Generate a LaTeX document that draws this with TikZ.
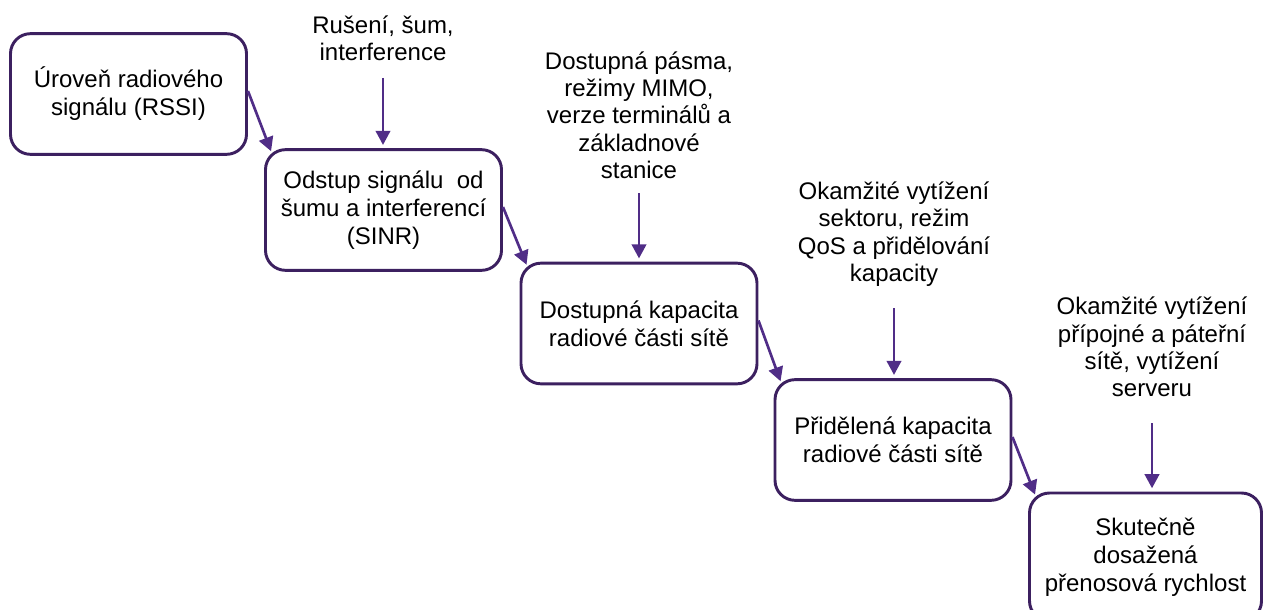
\documentclass[tikz,border=0pt]{standalone}
\usepackage{fontspec}
\setmainfont{Liberation Sans}
\usetikzlibrary{arrows.meta,calc}

\definecolor{boxline}{RGB}{60,32,96}
\definecolor{arrowline}{RGB}{80,45,135}

\tikzset{
    stage/.style={draw=boxline, line width=2.2pt, rounded corners=15pt, fill=white,
        minimum width=177pt, minimum height=90.5pt, align=center, inner sep=2pt,
        font=\fontsize{18}{21}\selectfont},
    factor/.style={align=center, inner sep=0pt, font=\fontsize{18}{20.5}\selectfont},
    flow/.style={draw=arrowline, line width=2pt, -{Triangle[width=11pt,length=10.5pt]}},
    feed/.style={draw=arrowline, line width=1.4pt, -{Triangle[width=11pt,length=10.5pt]}, shorten >=2.5pt}
}

\begin{document}
\begin{tikzpicture}[x=0.75pt, y=-0.75pt]
            \useasboundingbox (0,0) rectangle (1267,610);

            %stages of the chain
            \node[stage] (b1) at (128.5,94) {Úroveň radiového\\signálu (RSSI)};
            \node[stage] (b2) at (383.5,210) {Odstup signálu\ \ od\\šumu a interferencí\\(SINR)};
            \node[stage] (b3) at (639,323.5) {Dostupná kapacita\\radiové části sítě};
            \node[stage] (b4) at (893,440) {Přidělená kapacita\\radiové části sítě};
            \node[stage, minimum width=174pt, minimum height=96pt] (b5) at (1145.5,557) {Skutečně\\dosažená\\přenosová rychlost};

            %influencing factors
            \node[factor] (l1) at (383,38) {Rušení, šum,\\interference};
            \node[factor] (l2) at (639,115) {Dostupná pásma,\\režimy MIMO,\\verze terminálů a\\základnové\\stanice};
            \node[factor] (l3) at (894,234) {Okamžité vytížení\\sektoru, režim\\QoS a přidělování\\kapacity};
            \node[factor] (l4) at (1152,347) {Okamžité vytížení\\přípojné a páteřní\\sítě, vytížení\\serveru};

            \coordinate (s1) at (383,78);
            \coordinate (s2) at (639,193);
            \coordinate (s3) at (894,308);
            \coordinate (s4) at (1152,423);

            \foreach \a/\b in {b1/b2, b2/b3, b3/b4, b4/b5}
            {
                \draw[flow] ($(\a.east)+(0,-3)$) -- ($(\b.north west)+(7,3)$);
            }

            \foreach \s/\b in {s1/b2, s2/b3, s3/b4, s4/b5}
            {
                \draw[feed] (\s) -- (\s |- \b.north);
            }

        \end{tikzpicture}
\end{document}
